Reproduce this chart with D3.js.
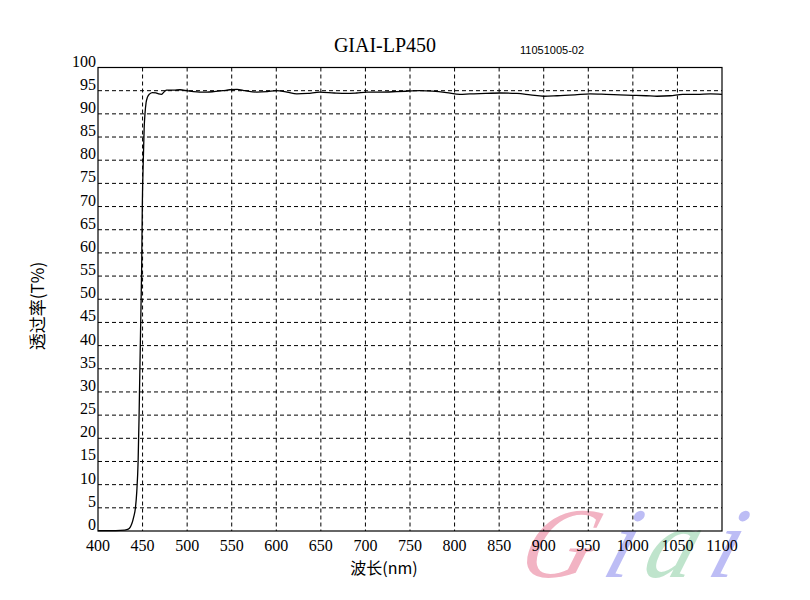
<!DOCTYPE html>
<html><head><meta charset="utf-8">
<script src="https://cdn.jsdelivr.net/npm/d3@7"></script>
<style>body{margin:0;background:#fff}svg{display:block}</style>
</head><body>
<svg id="c" width="810" height="600"></svg>
<script>
const title = "GIAI-LP450";
const code = "11051005-02";
const xLabel = "波长(nm)";
const yLabel = "透过率(T%)";
const xTicks = [400,450,500,550,600,650,700,750,800,850,900,950,1000,1050,1100];
const yTicks = [0,5,10,15,20,25,30,35,40,45,50,55,60,65,70,75,80,85,90,95,100];
const wavelength = [400,420,430,434,436,438,440,442,443.5,445,446,447,448,449,449.7,450.8,451.8,452.7,454,455.5,458,461,465,468,471,474,477,485,492,500,507,514,522,530,540,548,556,565,578,590,600,612,623,635,649,665,679,690,702,718,735,748,761,775,791,806,817,835,851,870,885,900,915,935,952,970,985,1000,1015,1027,1042,1056,1072,1087,1100];
const transmission = [0.1,0.1,0.2,0.4,0.8,1.6,3,5,8.5,15,24,35,46,57,70,80,87,90,92.5,93.6,94.3,94.6,94.5,94.3,94.2,94.7,95.1,95.1,95.2,95.0,94.8,94.7,94.7,94.8,95.0,95.2,95.3,95.0,94.7,94.8,95.0,94.7,94.3,94.4,94.7,94.5,94.4,94.5,94.7,94.7,94.8,94.9,95.0,94.9,94.6,94.2,94.3,94.4,94.5,94.4,94.1,93.8,93.9,94.1,94.3,94.2,94.1,94.0,93.9,93.8,93.9,94.2,94.2,94.3,94.2];

const svg = d3.select("#c");
const L=98, R=722, T=67.5, B=531;
const x = d3.scaleLinear().domain([400,1100]).range([L,R]);
const y = d3.scaleLinear().domain([0,100]).range([B,T]);
const serif = "'Liberation Serif','Times New Roman',serif";

// watermark (behind everything)
const wm = svg.append("g").attr("font-family",serif).attr("font-style","italic").attr("font-size",100);
[["G",515,"#f2b3c3"],["i",600,"#bdbdf5"],["a",640,"#bfe4cc"],["i",705,"#bdbdf5"]].forEach(([t,px,c])=>{
  wm.append("text").attr("transform",`translate(${px},577) skewX(-18)`).attr("fill",c).text(t);
});

// grid
const g = svg.append("g");
g.selectAll("line.v").data(xTicks.slice(1,-1)).enter().append("line")
  .attr("x1",d=>x(d)).attr("x2",d=>x(d)).attr("y1",T).attr("y2",B)
  .attr("stroke","#000").attr("stroke-width",1).attr("stroke-dasharray","4,3");
g.selectAll("line.h").data(yTicks.slice(1,-1)).enter().append("line")
  .attr("y1",d=>y(d)).attr("y2",d=>y(d)).attr("x1",L).attr("x2",R)
  .attr("stroke","#000").attr("stroke-width",1).attr("stroke-dasharray","4,3");

// frame
svg.append("rect").attr("x",L).attr("y",T).attr("width",R-L).attr("height",B-T)
  .attr("fill","none").attr("stroke","#000").attr("stroke-width",1.2);

// tick labels
svg.append("g").selectAll("text").data(yTicks).enter().append("text")
  .attr("x",96).attr("y",d=>y(d)-1).attr("text-anchor","end")
  .attr("font-family",serif).attr("font-size",16).text(d=>d);
svg.append("g").selectAll("text").data(xTicks).enter().append("text")
  .attr("x",d=>x(d)).attr("y",551).attr("text-anchor","middle")
  .attr("font-family",serif).attr("font-size",16).text(d=>d);

// curve
const line = d3.line().x((d,i)=>x(wavelength[i])).y(d=>y(d)).curve(d3.curveMonotoneX);
svg.append("path").datum(transmission).attr("d",line)
  .attr("fill","none").attr("stroke","#000").attr("stroke-width",1.3);

// titles
svg.append("text").attr("x",385).attr("y",52).attr("text-anchor","middle")
  .attr("font-family",serif).attr("font-size",20).text(title);
svg.append("text").attr("x",520).attr("y",54)
  .attr("font-family","'Liberation Sans',Arial,sans-serif").attr("font-size",11).text(code);
svg.append("text").attr("x",384).attr("y",574).attr("text-anchor","middle")
  .attr("font-family","'Noto Sans CJK SC',"+serif).attr("font-size",16).text(xLabel);
svg.append("text").attr("transform","translate(44,306) rotate(-90)").attr("text-anchor","middle")
  .attr("font-family","'Noto Sans CJK SC',"+serif).attr("font-size",17).text(yLabel);
</script>
</body></html>
